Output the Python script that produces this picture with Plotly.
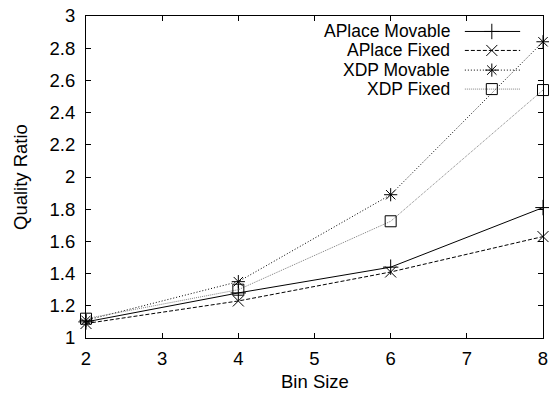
import plotly.graph_objects as go

# ---- data ----
bin_size = [2, 4, 6, 8]
aplace_movable = [1.10, 1.28, 1.44, 1.81]
aplace_fixed = [1.09, 1.23, 1.41, 1.63]
xdp_movable = [1.11, 1.35, 1.89, 2.84]
xdp_fixed = [1.12, 1.30, 1.725, 2.54]
series_names = ["APlace Movable", "APlace Fixed", "XDP Movable", "XDP Fixed"]
x_ticks = [2, 3, 4, 5, 6, 7, 8]
y_ticks = [1, 1.2, 1.4, 1.6, 1.8, 2, 2.2, 2.4, 2.6, 2.8, 3]
y_tick_labels = ["1", "1.2", "1.4", "1.6", "1.8", "2", "2.2", "2.4", "2.6", "2.8", "3"]
x_title = "Bin Size"
y_title = "Quality Ratio"

# ---- styles ----
styles = [
    dict(color="black", dash="solid", symbol="cross-thin-open", size=11),
    dict(color="black", dash="4px,2px", symbol="x-thin-open", size=11),
    dict(color="black", dash="1px,2px", symbol="asterisk-open", size=11),
    dict(color="#808080", dash="1px,1px", symbol="square-open", size=11),
]
values = [aplace_movable, aplace_fixed, xdp_movable, xdp_fixed]
FONT = "Liberation Sans, Arial, Helvetica, sans-serif"

fig = go.Figure()
for name, vals, st in zip(series_names, values, styles):
    fig.add_trace(go.Scatter(
        x=bin_size, y=vals, mode="lines+markers", name=name, showlegend=False,
        line=dict(color=st["color"], dash=st["dash"], width=1),
        marker=dict(symbol=st["symbol"], size=st["size"], color="black",
                    line=dict(color="black", width=1)),
        cliponaxis=False,
    ))

# custom gnuplot-style key (text right-aligned, sample on the right)
key_rows = [0.952, 0.893, 0.832, 0.773]
key_text_x = 0.801
key_line = [0.829, 0.950]
key_mark = 0.888
for name, st, ky in zip(series_names, styles, key_rows):
    fig.add_trace(go.Scatter(
        x=key_line, y=[ky, ky], xaxis="x2", yaxis="y2", mode="lines",
        line=dict(color=st["color"], dash=st["dash"], width=1),
        showlegend=False, hoverinfo="skip"))
    fig.add_trace(go.Scatter(
        x=[key_mark], y=[ky], xaxis="x2", yaxis="y2", mode="markers",
        marker=dict(symbol=st["symbol"], size=st["size"], color="black",
                    line=dict(color="black", width=1)),
        showlegend=False, hoverinfo="skip"))
    fig.add_annotation(x=key_text_x, y=ky, xref="paper", yref="paper",
                       text=name, showarrow=False, xanchor="right", yanchor="middle",
                       font=dict(family=FONT, size=17.5, color="black"))

# axis titles
fig.add_annotation(x=0.5, y=-0.134, xref="paper", yref="paper", text=x_title,
                   showarrow=False, xanchor="center", yanchor="middle", borderpad=0,
                   font=dict(family=FONT, size=18.5, color="black"))
fig.add_annotation(x=-0.1444, y=0.5, xref="paper", yref="paper", text=y_title,
                   showarrow=False, xanchor="center", yanchor="middle", textangle=-90,
                   borderpad=0, font=dict(family=FONT, size=18.5, color="black"))

fig.update_layout(
    width=549, height=394,
    margin=dict(l=86, r=6, t=16, b=56),
    paper_bgcolor="white", plot_bgcolor="white",
    font=dict(family=FONT, size=18.5, color="black"),
    xaxis=dict(range=[2, 8], tickvals=x_ticks, ticks="inside", ticklen=5,
               tickcolor="black", showline=True, linecolor="black", linewidth=1,
               mirror="ticks", showgrid=False, zeroline=False, automargin=False,
               ticklabelstandoff=4, ticklabeloverflow="allow"),
    yaxis=dict(range=[1, 3], tickvals=y_ticks, ticktext=y_tick_labels,
               ticks="inside", ticklen=5, tickcolor="black", showline=True,
               linecolor="black", linewidth=1, mirror="ticks", showgrid=False,
               zeroline=False, automargin=False, ticklabelstandoff=6,
               ticklabeloverflow="allow"),
    xaxis2=dict(overlaying="x", range=[0, 1], visible=False),
    yaxis2=dict(overlaying="y", range=[0, 1], visible=False),
)

fig.write_html(
    "out.html",
    config={"displayModeBar": False},
    post_script="document.body.style.margin='0';document.body.style.overflow='hidden';",
)
